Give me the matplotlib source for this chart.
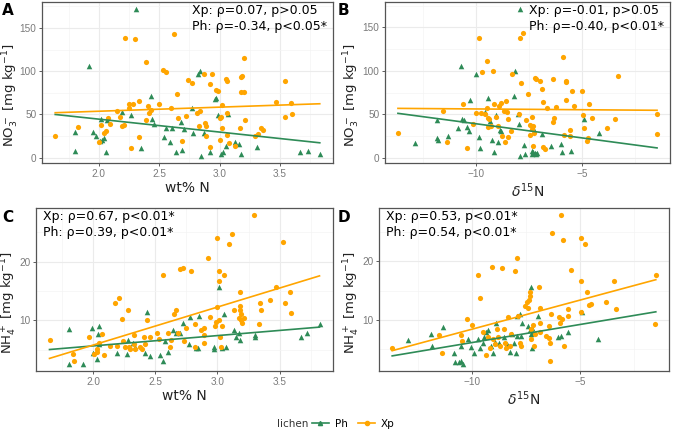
import numpy as np
import matplotlib
matplotlib.use("Agg")
import matplotlib.pyplot as plt
from matplotlib.lines import Line2D
from matplotlib.ticker import MultipleLocator

plt.rcParams['font.family'] = ['DejaVu Sans']

GREEN = '#2E8B57'
ORANGE = '#FFA500'

# ---- panel A: NO3- vs wt% N ----
a_xp_x = [1.64, 1.83, 2.00, 2.02, 2.04, 2.06, 2.08, 2.09, 2.15, 2.18, 2.19, 2.21, 2.22, 2.25,
          2.25, 2.28, 2.27, 2.30, 2.33, 2.33, 2.39, 2.39, 2.41, 2.42, 2.43, 2.50, 2.53, 2.56,
          2.60, 2.62, 2.65, 2.66, 2.69, 2.72, 2.74, 2.77, 2.81, 2.83, 2.84, 2.87, 2.88, 2.89,
          2.89, 2.92, 2.92, 2.94, 2.97, 2.99, 3.00, 3.00, 3.01, 3.02, 3.02, 3.05, 3.06, 3.06,
          3.06, 3.08, 3.13, 3.17, 3.18, 3.18, 3.19, 3.20, 3.20, 3.21, 3.29, 3.32, 3.34, 3.36,
          3.47, 3.54, 3.54, 3.59, 3.60]
a_xp_y = [25.4, 35.8, 18.5, 37.7, 28.8, 30.8, 45.4, 38.8, 53.8, 47.3, 36.9, 37.7, 138.5, 62.3,
          56.9, 61.5, 10.8, 136.9, 65.4, 24.2, 110.8, 43.8, 60.0, 51.2, 55.0, 62.3, 100.8, 98.5,
          56.9, 143.5, 73.1, 45.4, 19.2, 48.1, 90.0, 86.9, 51.9, 36.9, 53.8, 96.2, 40.0, 36.9,
          24.6, 85.4, 12.3, 96.2, 78.8, 76.9, 20.4, 45.4, 47.3, 60.4, 34.6, 91.5, 88.5, 51.2,
          26.2, 16.5, 13.8, 33.8, 76.2, 93.1, 94.2, 115.4, 76.2, 43.8, 25.4, 26.9, 33.8, 31.9,
          63.8, 88.5, 46.9, 63.1, 50.0]
a_ph_x = [1.80, 1.80, 1.92, 1.95, 1.98, 2.01, 2.02, 2.03, 2.04, 2.06, 2.07, 2.19, 2.27, 2.31,
          2.35, 2.43, 2.44, 2.46, 2.54, 2.56, 2.59, 2.61, 2.64, 2.68, 2.69, 2.71, 2.77, 2.78,
          2.82, 2.84, 2.85, 2.87, 2.92, 2.96, 2.97, 2.99, 3.01, 3.03, 3.05, 3.07, 3.13, 3.16,
          3.18, 3.31, 3.67, 3.73, 3.83]
a_ph_y = [7.7, 30.0, 105.4, 30.0, 25.4, 19.2, 44.6, 20.8, 22.3, 6.9, 43.1, 52.3, 49.2, 171.5,
          11.5, 70.8, 44.6, 39.2, 24.2, 34.6, 18.5, 34.6, 6.2, 41.5, 8.8, 33.1, 57.7, 28.1,
          96.2, 100.0, 2.3, 28.8, 6.2, 67.7, 69.2, 49.2, 4.6, 6.2, 13.8, 50.0, 17.7, 15.4,
          4.6, 12.7, 6.2, 7.7, 3.8]

# ---- panel B: NO3- vs d15N ----
b_xp_x = [-13.66, -11.35, -11.54, -10.58, -10.42, -10.11, -9.98, -9.85, -9.77, -9.71, -9.55,
          -9.49, -9.46, -9.40, -9.37, -9.40, -9.28, -9.18, -9.15, -9.03, -8.97, -8.88, -8.83,
          -8.74, -8.69, -8.63, -8.58, -8.54, -8.48, -8.48, -8.35, -8.31, -7.98, -7.92, -7.86,
          -7.77, -7.62, -7.55, -7.46, -7.43, -7.37, -7.34, -7.31, -7.28, -7.22, -7.18, -7.25,
          -6.97, -6.88, -6.85, -6.82, -6.75, -6.63, -6.38, -6.35, -6.29, -6.23, -5.89, -5.86,
          -5.77, -5.74, -5.77, -5.55, -5.55, -5.46, -5.35, -5.00, -4.97, -4.91, -4.78, -4.69,
          -4.66, -4.51, -3.80, -3.46, -3.31, -1.46, -1.46]
b_xp_y = [28.1, 18.5, 53.8, 62.3, 10.8, 38.5, 51.9, 137.7, 51.2, 98.1, 50.0,
          110.8, 57.7, 46.2, 44.6, 35.4, 36.2, 100.0, 61.5, 46.9, 36.5, 60.0, 63.1,
          25.4, 53.5, 18.5, 65.4, 53.1, 44.6, 23.8, 30.8, 96.2, 50.8, 137.7, 85.8,
          143.1, 43.8, 73.1, 38.1, 26.2, 33.1, 47.3, 13.1, 36.9, 92.3, 90.8, 28.1,
          88.5, 79.2, 12.3, 64.2, 10.0, 56.9, 90.8, 40.8, 46.2, 58.5, 116.2, 26.2,
          88.5, 86.9, 66.5, 31.9, 25.4, 76.9, 60.0, 76.9, 49.2, 34.6, 19.2, 23.1,
          62.3, 46.2, 33.8, 45.0, 94.6, 50.8, 27.3]
b_ph_x = [-12.88, -11.83, -11.82, -11.77, -11.31, -10.82, -10.69, -10.63, -10.57, -10.42,
          -10.32, -10.26, -9.97, -9.86, -9.80, -9.55, -9.40, -9.34, -9.25, -9.12, -9.03, -8.97,
          -8.86, -8.82, -8.20, -8.14, -8.02, -7.95, -7.92, -7.89, -7.71, -7.68, -7.37, -7.34,
          -7.28, -7.23, -7.18, -7.12, -7.28, -6.89, -6.45, -5.98, -5.95, -5.52, -4.91, -4.20]
b_ph_y = [16.9, 43.5, 23.1, 20.0, 25.4, 34.6, 105.0, 44.6, 43.5, 35.4,
          30.8, 66.5, 96.2, 23.5, 11.5, 53.1, 69.2, 41.9, 20.8, 6.9, 48.8, 18.5,
          31.9, 30.8, 70.8, 100.0, 50.0, 38.5, 2.3, 170.8, 14.6, 3.8, 7.7, 4.6,
          6.2, 5.0, 3.8, 5.0, 33.8, 26.9, 13.1, 15.4, 6.2, 7.7, 44.6, 28.1]

# ---- panel C: NH4+ vs wt% N ----
c_xp_x = [1.65, 1.84, 1.85, 1.97, 2.01, 2.03, 2.03, 2.05, 2.07, 2.09, 2.14, 2.18, 2.19, 2.21,
          2.23, 2.24, 2.26, 2.28, 2.29, 2.30, 2.33, 2.33, 2.34, 2.38, 2.39, 2.41, 2.42, 2.43,
          2.46, 2.51, 2.53, 2.56, 2.60, 2.62, 2.63, 2.65, 2.67, 2.68, 2.70, 2.72, 2.73, 2.75,
          2.79, 2.82, 2.82, 2.87, 2.89, 2.89, 2.89, 2.92, 2.94, 2.98, 2.99, 3.00, 3.00, 3.01,
          3.01, 3.01, 3.02, 3.03, 3.04, 3.05, 3.09, 3.12, 3.13, 3.17, 3.18, 3.18, 3.18, 3.19,
          3.19, 3.20, 3.21, 3.29, 3.33, 3.34, 3.35, 3.42, 3.47, 3.53, 3.54, 3.58, 3.59]
c_xp_y = [6.55, 4.25, 3.0, 7.1, 4.25, 4.5, 5.1, 6.1, 7.6, 4.0, 5.6, 12.9, 5.6, 13.8,
          10.2, 6.4, 5.5, 11.8, 5.4, 5.1, 6.0, 7.5, 5.1, 5.4, 5.1, 7.1, 6.0, 10.0,
          7.2, 7.8, 6.8, 17.7, 7.9, 5.5, 6.7, 11.0, 11.8, 7.9, 18.7, 19.0, 6.4, 8.7,
          18.4, 9.4, 5.5, 8.3, 7.4, 6.1, 8.7, 20.6, 10.5, 9.0, 9.7, 24.0, 12.3, 10.1,
          16.7, 18.4, 7.1, 5.5, 9.0, 17.7, 23.0, 24.8, 11.7, 10.4, 14.8, 12.4, 11.8, 11.0,
          10.0, 9.5, 10.3, 27.9, 9.3, 12.9, 11.8, 13.4, 15.7, 23.4, 12.9, 14.8, 11.3]
c_ph_x = [1.81, 1.81, 1.92, 1.99, 2.00, 2.03, 2.04, 2.05, 2.05, 2.19, 2.27, 2.28, 2.32, 2.34,
          2.43, 2.42, 2.46, 2.54, 2.56, 2.58, 2.60, 2.64, 2.67, 2.70, 2.72, 2.77, 2.78, 2.83,
          2.84, 2.85, 2.97, 2.97, 3.01, 3.04, 3.05, 3.07, 3.13, 3.15, 3.17, 3.18, 3.30, 3.30,
          3.67, 3.72, 3.82]
c_ph_y = [8.5, 2.6, 2.6, 8.7, 4.4, 3.3, 7.6, 9.0, 5.9, 4.4, 4.3, 6.7, 6.1, 5.5,
          11.4, 4.4, 3.9, 4.0, 3.0, 6.4, 4.5, 8.3, 7.9, 7.8, 9.5, 6.0, 10.6, 5.3,
          5.2, 10.8, 5.4, 5.1, 15.7, 5.3, 11.1, 5.5, 8.3, 7.1, 7.9, 6.7, 7.4, 7.2,
          7.2, 7.9, 9.4]

# ---- panel D: NH4+ vs d15N ----
d_xp_x = [-13.67, -11.51, -11.39, -10.51, -10.45, -10.24, -10.00, -9.70, -9.61, -9.46, -9.35,
          -9.25, -9.16, -9.07, -9.01, -8.92, -8.83, -8.77, -8.70, -8.60, -8.52, -8.46, -8.40,
          -8.34, -8.22, -8.18, -8.01, -7.92, -7.88, -7.77, -7.74, -7.53, -7.47, -7.41, -7.35,
          -7.32, -7.32, -7.26, -7.26, -7.17, -7.14, -7.08, -6.90, -6.87, -6.84, -6.84, -6.57,
          -6.45, -6.42, -6.39, -6.39, -6.33, -6.30, -5.99, -5.93, -5.90, -5.84, -5.81, -5.75,
          -5.57, -5.54, -5.42, -4.97, -4.97, -4.97, -4.79, -4.70, -4.61, -4.52, -3.80, -3.46,
          -3.34, -1.51, -1.54]
d_xp_y = [5.2, 7.4, 4.3, 7.4, 6.4, 10.1, 9.2, 17.7, 13.8, 7.9, 4.0,
          7.1, 5.2, 19.1, 6.8, 5.9, 8.5, 7.1, 5.5, 18.9, 8.4, 6.0, 5.1,
          10.5, 5.5, 7.5, 18.4, 20.6, 10.6, 6.0, 5.5, 12.4, 13.0, 12.1, 13.4,
          14.1, 14.7, 8.4, 6.8, 9.1, 5.6, 7.5, 15.7, 12.0, 8.0, 9.4, 7.2,
          6.9, 8.9, 6.0, 3.0, 11.0, 24.8, 10.5, 9.5, 27.9, 10.2, 23.6, 5.5,
          11.8, 10.7, 18.5, 24.1, 16.7, 11.3, 23.0, 14.8, 12.5, 12.8, 13.0, 16.7,
          11.8, 17.7, 9.3]
d_ph_x = [-12.92, -11.87, -11.84, -11.33, -10.84, -10.78, -10.60, -10.48, -10.42, -10.51,
          -10.18, -10.03, -9.88, -9.73, -9.61, -9.49, -9.43, -9.34, -9.25, -9.13, -9.04, -8.95,
          -8.86, -8.73, -8.52, -8.37, -8.22, -8.16, -8.07, -7.98, -7.92, -7.89, -7.77, -7.74,
          -7.68, -7.41, -7.32, -7.29, -7.26, -7.23, -7.17, -7.20, -6.93, -6.02, -5.90, -5.54,
          -4.91, -4.19]
d_ph_y = [6.6, 7.5, 5.5, 8.7, 4.4, 2.8, 2.8, 3.0, 2.5, 5.5,
          6.8, 5.3, 4.3, 6.7, 5.2, 6.0, 7.1, 8.0, 8.3, 5.5, 4.3, 6.2,
          9.5, 6.0, 7.1, 5.9, 4.5, 7.6, 6.1, 4.3, 10.6, 7.2, 11.0, 7.2,
          9.4, 9.0, 8.3, 7.6, 15.6, 8.6, 7.8, 5.2, 10.7, 7.1, 7.2, 8.0,
          11.4, 6.7]

stats_a = "Xp: \u03c1=0.07, p>0.05\nPh: \u03c1=-0.34, p<0.05*"
stats_b = "Xp: \u03c1=-0.01, p>0.05\nPh: \u03c1=-0.40, p<0.01*"
stats_c = "Xp: \u03c1=0.67, p<0.01*\nPh: \u03c1=0.39, p<0.01*"
stats_d = "Xp: \u03c1=0.53, p<0.01*\nPh: \u03c1=0.54, p<0.01*"

lab_no3 = r'NO$_3^-$ [mg kg$^{-1}$]'
lab_nh4 = r'NH$_4^+$ [mg kg$^{-1}$]'
lab_wtn = 'wt% N'
lab_d15n = r'$\delta^{15}$N'

W, H = 676, 436
fig = plt.figure(figsize=(W / 100, H / 100), dpi=100)


def add_ax(l, t, r, b):
    return fig.add_axes([l / W, 1 - b / H, (r - l) / W, (b - t) / H])


def panel(ax, xp_x, xp_y, ph_x, ph_y, xstep, ystep, stats, right, xlabel, ylabel, ylab_x):
    ax.set_facecolor('white')
    ax.scatter(ph_x, ph_y, marker='^', s=16, color=GREEN, linewidths=0, zorder=3)
    ax.scatter(xp_x, xp_y, marker='o', s=14, color=ORANGE, linewidths=0, zorder=3)
    # lm fits, drawn across the full x range of the panel
    allx = np.concatenate([xp_x, ph_x])
    xs = np.linspace(allx.min(), allx.max(), 80)
    for xx, yy, c in [(ph_x, ph_y, GREEN), (xp_x, xp_y, ORANGE)]:
        k, b = np.polyfit(xx, yy, 1)
        ax.plot(xs, k * xs + b, color=c, lw=1.2, zorder=4)
    ax.margins(0.05)
    ax.xaxis.set_major_locator(MultipleLocator(xstep))
    ax.xaxis.set_minor_locator(MultipleLocator(xstep / 2))
    ax.yaxis.set_major_locator(MultipleLocator(ystep))
    ax.yaxis.set_minor_locator(MultipleLocator(ystep / 2))
    ax.grid(True, which='major', color='#EBEBEB', lw=0.8, zorder=0)
    ax.grid(True, which='minor', color='#F4F4F4', lw=0.5, zorder=0)
    ax.set_axisbelow(True)
    for s in ax.spines.values():
        s.set_color('#555555')
        s.set_linewidth(0.9)
    ax.tick_params(which='major', length=2.5, width=0.6, color='#444444',
                   labelsize=7.2, labelcolor='#7A7A7A', pad=1.5)
    ax.tick_params(which='minor', length=0)
    for t in ax.get_xticklabels() + ax.get_yticklabels():
        t.set_family('Liberation Sans')
    ax.set_xlabel(xlabel, fontsize=10, labelpad=2, color='#222222')
    ax.set_ylabel(ylabel, fontsize=9.5, color='#222222')
    ax.yaxis.set_label_coords(ylab_x, 0.42)
    if right:
        ax.text(0.98, 0.985, stats, transform=ax.transAxes, ha='right', va='top',
                multialignment='left', fontsize=9, linespacing=1.25, zorder=5)
    else:
        ax.text(0.025, 0.985, stats, transform=ax.transAxes, ha='left', va='top',
                multialignment='left', fontsize=9, linespacing=1.25, zorder=5)


axA = add_ax(42, 2, 333, 163)
axB = add_ax(385, 2, 670, 163)
axC = add_ax(36, 208, 333, 371)
axD = add_ax(379, 208, 669, 371)

panel(axA, np.array(a_xp_x), np.array(a_xp_y), np.array(a_ph_x), np.array(a_ph_y),
      0.5, 50, stats_a, True, lab_wtn, lab_no3, -0.073)
panel(axB, np.array(b_xp_x), np.array(b_xp_y), np.array(b_ph_x), np.array(b_ph_y),
      5, 50, stats_b, True, lab_d15n, lab_no3, -0.081)
panel(axC, np.array(c_xp_x), np.array(c_xp_y), np.array(c_ph_x), np.array(c_ph_y),
      0.5, 10, stats_c, False, lab_wtn, lab_nh4, -0.056)
panel(axD, np.array(d_xp_x), np.array(d_xp_y), np.array(d_ph_x), np.array(d_ph_y),
      5, 10, stats_d, False, lab_d15n, lab_nh4, -0.058)

for letter, x, y in [('A', 2, 3), ('B', 338, 3), ('C', 2, 210), ('D', 338, 210)]:
    fig.text(x / W, 1 - y / H, letter, fontsize=11, fontweight='bold', ha='left', va='top')

# legend
fig.text(277 / W, 1 - 424 / H, 'lichen', fontsize=7.5, color='#333333', va='center')
handles = [Line2D([], [], color=GREEN, marker='^', markersize=3, lw=1.2, label='Ph'),
           Line2D([], [], color=ORANGE, marker='o', markersize=3, lw=1.2, label='Xp')]
fig.legend(handles=handles, ncol=2, loc='center left', bbox_to_anchor=(312 / W, 1 - 424 / H),
           frameon=False, fontsize=7.5, handlelength=1.6, handletextpad=0.6,
           columnspacing=1.0, borderpad=0, borderaxespad=0)

fig.savefig('out.png', dpi=100)
